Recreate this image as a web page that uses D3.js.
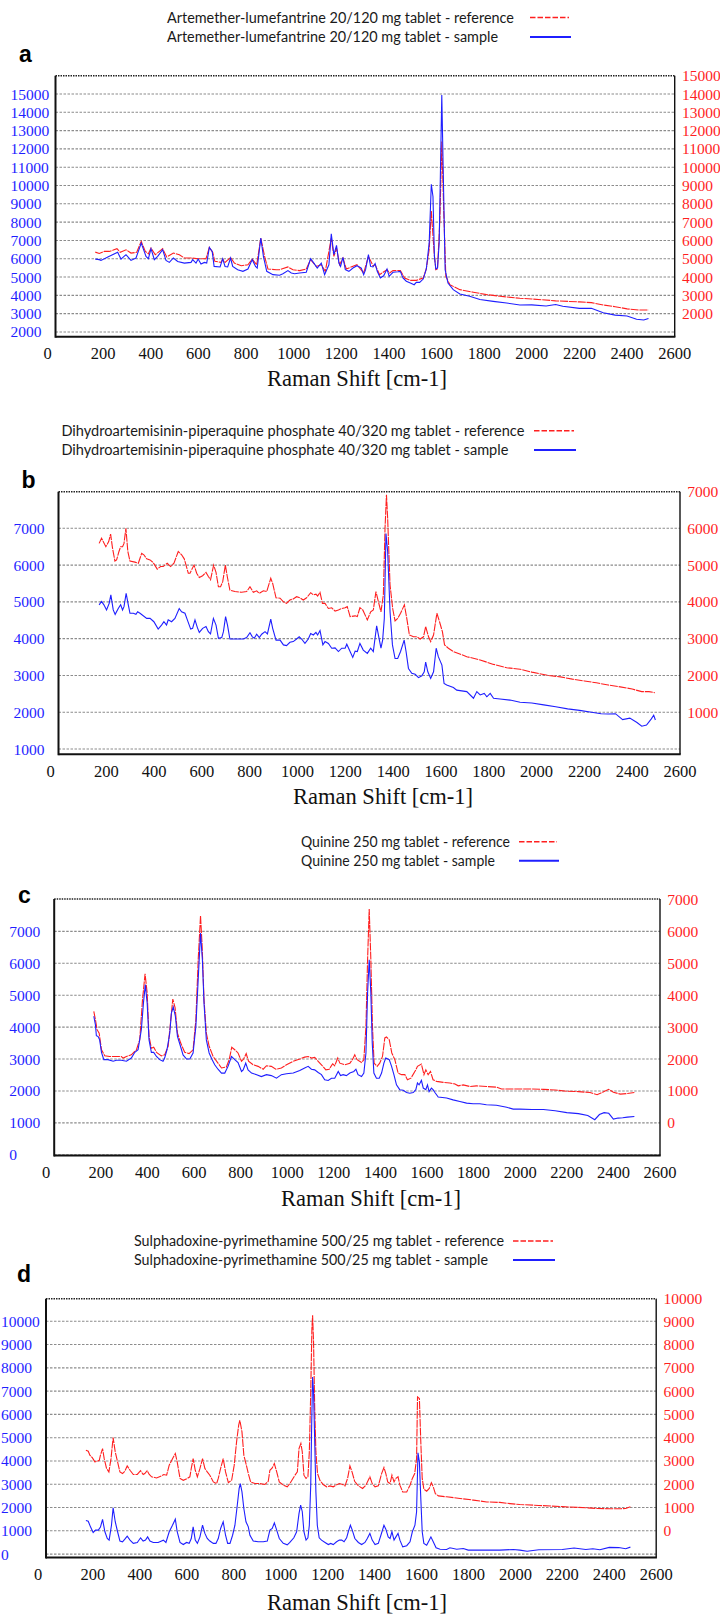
<!DOCTYPE html>
<html>
<head>
<meta charset="utf-8">
<script src="https://cdn.jsdelivr.net/npm/d3@7/dist/d3.min.js"></script>
<style>
  body { margin: 0; background: #fff; }
  svg { display: block; }
</style>
</head>
<body>
<div id="chart"></div>
<script>
// ---------------------------//
//            DATA            //
// ---------------------------//
// [Raman shift cm-1, intensity]; sample on the left (blue) axis, reference on the right (red) axis

const xTicks = [0, 200, 400, 600, 800, 1000, 1200, 1400, 1600, 1800, 2000, 2200, 2400, 2600];

// panel a
const aLegend = ["Artemether-lumefantrine 20/120 mg tablet - reference",
                 "Artemether-lumefantrine 20/120 mg tablet - sample"];
const aLeftTicks  = [2000, 3000, 4000, 5000, 6000, 7000, 8000, 9000, 10000, 11000, 12000, 13000, 14000, 15000];
const aRightTicks = [2000, 3000, 4000, 5000, 6000, 7000, 8000, 9000, 10000, 11000, 12000, 13000, 14000, 15000];
const aSample = [[167,5980],[184,5950],[191,5910],[226,6130],[261,6350],[275,5980],[296,6220],[317,5910],[338,6040],[360,6850],[380,6130],[390,6000],[401,6550],[415,5950],[429,6130],[450,6490],[464,5910],[478,5800],[495,6040],[513,5850],[541,5760],[569,5800],[576,5950],[590,5760],[599,5980],[611,5710],[625,5800],[635,5760],[646,6620],[658,6400],[666,5580],[691,5550],[702,6000],[712,5580],[723,5550],[735,6040],[744,5580],[765,5400],[787,5310],[808,5440],[826,5950],[840,5580],[847,5490],[862,7130],[873,6130],[887,5310],[913,5130],[941,5100],[955,5180],[976,5350],[990,5220],[1004,5180],[1025,5220],[1053,5260],[1071,6000],[1085,5760],[1099,5490],[1116,5760],[1130,5130],[1148,5670],[1158,7360],[1169,6220],[1180,6730],[1190,5760],[1197,5580],[1207,6070],[1217,5400],[1232,5310],[1249,5490],[1266,5620],[1284,5490],[1294,5130],[1302,5400],[1314,6220],[1323,5580],[1333,5550],[1342,5730],[1351,5310],[1364,4950],[1378,5070],[1392,5440],[1401,5040],[1417,5260],[1438,5290],[1448,5310],[1459,4950],[1473,4770],[1490,4670],[1506,4580],[1515,4710],[1529,4710],[1544,4890],[1557,5440],[1569,6850],[1578,10070],[1585,9400],[1591,6130],[1597,5440],[1604,5490],[1611,6850],[1622,14950],[1628,10850],[1636,5400],[1648,4670],[1670,4310],[1698,4070],[1739,3950],[1782,3770],[1838,3670],[1894,3580],[1950,3470],[2000,3480],[2060,3420],[2100,3500],[2130,3400],[2200,3290],[2250,3290],[2300,3050],[2350,2920],[2400,2870],[2440,2690],[2470,2650],[2490,2740]];
const aReference = [[167,5360],[184,5290],[205,5400],[226,5400],[240,5460],[258,5550],[272,5350],[296,5490],[317,5310],[341,5350],[360,5950],[377,5400],[390,5270],[401,5580],[419,5220],[450,5550],[467,5090],[495,5310],[520,5220],[541,5040],[569,5040],[600,5000],[632,5000],[646,5620],[660,5350],[669,4860],[695,4800],[702,4980],[712,4800],[735,5070],[751,4760],[780,4620],[808,4670],[826,4980],[845,4670],[862,6130],[878,5130],[892,4440],[927,4400],[941,4400],[976,4550],[997,4400],[1025,4350],[1053,4440],[1071,4950],[1095,4580],[1116,4670],[1133,4310],[1158,6130],[1169,5130],[1180,5580],[1193,4670],[1207,5040],[1221,4440],[1266,4670],[1294,4220],[1314,5130],[1333,4620],[1342,4670],[1361,4130],[1392,4400],[1403,4220],[1417,4350],[1448,4360],[1466,3950],[1490,3820],[1515,3820],[1544,3950],[1557,4440],[1569,5490],[1578,7600],[1590,5310],[1597,4400],[1604,4440],[1614,7130],[1622,11400],[1630,7670],[1639,4040],[1656,3580],[1698,3310],[1754,3170],[1810,3040],[1894,2910],[1950,2840],[2000,2800],[2100,2700],[2200,2640],[2250,2600],[2300,2470],[2350,2380],[2400,2260],[2450,2200],[2490,2200]];

// panel b
const bLegend = ["Dihydroartemisinin-piperaquine phosphate 40/320 mg tablet - reference",
                 "Dihydroartemisinin-piperaquine phosphate 40/320 mg tablet - sample"];
const bLeftTicks  = [1000, 2000, 3000, 4000, 5000, 6000, 7000];
const bRightTicks = [1000, 2000, 3000, 4000, 5000, 6000, 7000];
const bSample = [[170,4920],[180,5010],[190,4920],[201,4780],[212,4960],[219,5190],[229,4780],[237,4660],[250,4820],[260,4920],[268,4780],[274,4870],[283,5230],[292,4920],[299,4690],[313,4690],[324,4660],[331,4730],[341,4690],[369,4550],[383,4550],[399,4460],[417,4260],[431,4370],[441,4460],[452,4370],[459,4510],[473,4460],[487,4550],[505,4820],[515,4730],[529,4690],[539,4510],[553,4260],[561,4280],[571,4510],[581,4300],[589,4170],[603,4280],[617,4330],[627,4190],[636,4130],[648,4550],[659,4370],[669,4010],[683,4030],[690,4190],[699,4600],[707,4370],[717,3990],[745,3990],[773,3990],[787,4030],[801,4160],[811,4050],[819,4010],[829,4120],[840,4030],[850,4120],[864,4190],[874,4130],[888,4530],[896,4280],[910,3960],[927,3960],[941,3830],[954,3810],[968,3900],[982,3920],[996,3990],[1007,4050],[1017,3990],[1031,3870],[1045,3990],[1055,4140],[1066,4100],[1077,4170],[1084,4100],[1094,4220],[1106,3830],[1115,3920],[1129,3870],[1143,3740],[1157,3750],[1171,3650],[1185,3740],[1199,3740],[1206,3850],[1217,3690],[1231,3490],[1241,3660],[1250,3650],[1261,3870],[1275,3690],[1292,3600],[1306,3740],[1317,3650],[1331,4350],[1341,4010],[1349,3740],[1356,3960],[1363,4550],[1370,6860],[1377,6370],[1387,4730],[1397,3830],[1408,3460],[1419,3460],[1431,3650],[1446,3960],[1454,3650],[1464,3190],[1478,3060],[1492,3030],[1506,2940],[1520,2990],[1530,3100],[1536,3360],[1545,3100],[1557,2920],[1569,3100],[1580,3740],[1589,3510],[1604,3280],[1613,2780],[1624,2740],[1652,2670],[1666,2600],[1708,2560],[1736,2380],[1750,2560],[1764,2470],[1781,2510],[1792,2420],[1806,2510],[1820,2380],[1847,2360],[1889,2330],[1931,2270],[1980,2250],[2030,2200],[2080,2150],[2130,2090],[2180,2050],[2230,2000],[2270,1960],[2300,1950],[2330,1960],[2360,1800],[2390,1840],[2420,1720],[2440,1620],[2460,1650],[2480,1820],[2490,1920],[2497,1790]];
const bReference = [[170,5590],[180,5730],[187,5640],[198,5500],[210,5640],[218,5840],[226,5460],[236,5110],[243,5140],[253,5370],[260,5500],[268,5500],[274,5590],[282,6000],[290,5370],[299,5110],[320,5080],[334,5050],[348,5320],[357,5280],[369,5170],[383,5140],[396,5070],[413,4890],[427,4960],[438,4960],[455,5050],[469,4960],[483,5050],[501,5370],[515,5280],[526,5170],[543,4780],[550,4780],[567,5000],[578,4780],[589,4660],[603,4710],[617,4800],[627,4690],[636,4600],[649,5000],[659,4800],[669,4410],[678,4410],[687,4550],[698,5000],[706,4690],[717,4320],[738,4280],[766,4260],[787,4280],[801,4410],[815,4260],[829,4300],[840,4230],[857,4300],[871,4280],[888,4640],[896,4500],[910,4110],[927,4100],[941,4000],[954,3960],[968,4050],[982,4080],[996,4140],[1010,4110],[1024,4050],[1038,4110],[1055,4250],[1066,4190],[1077,4210],[1084,4160],[1094,4260],[1104,3960],[1115,3960],[1129,3820],[1143,3840],[1157,3750],[1171,3780],[1185,3820],[1199,3840],[1208,3870],[1220,3600],[1241,3620],[1250,3600],[1261,3840],[1273,3780],[1292,3510],[1306,3730],[1317,3780],[1328,4280],[1340,3960],[1349,3730],[1359,4190],[1366,6000],[1372,6910],[1377,6270],[1387,4460],[1398,3820],[1408,3480],[1419,3550],[1431,3690],[1447,3920],[1457,3550],[1468,3100],[1485,3050],[1499,3050],[1513,2990],[1527,3050],[1536,3330],[1548,3050],[1557,2920],[1569,3100],[1583,3690],[1594,3460],[1606,3190],[1615,2830],[1631,2740],[1652,2650],[1708,2510],[1764,2420],[1820,2300],[1875,2210],[1931,2170],[1980,2090],[2050,2000],[2100,1960],[2150,1900],[2200,1850],[2250,1800],[2300,1740],[2350,1690],[2400,1630],[2440,1560],[2470,1560],[2495,1530]];

// panel c
const cLegend = ["Quinine 250 mg tablet - reference",
                 "Quinine 250 mg tablet - sample"];
const cLeftTicks  = [0, 1000, 2000, 3000, 4000, 5000, 6000, 7000];
const cRightTicks = [0, 1000, 2000, 3000, 4000, 5000, 6000, 7000];
const cSample = [[170,4340],[177,4070],[181,3730],[188,3710],[195,3600],[203,3210],[213,2980],[231,2980],[253,2930],[267,2960],[288,2960],[310,2930],[331,3030],[346,3210],[360,3290],[374,3920],[383,4750],[391,5330],[399,4750],[407,3600],[417,3210],[427,3210],[439,3080],[453,2980],[467,2930],[474,3030],[484,3290],[496,3810],[503,4440],[511,4630],[520,4340],[529,3710],[542,3400],[553,3130],[568,3000],[582,3000],[596,3190],[608,4020],[618,5490],[628,6950],[636,6110],[643,4750],[653,3600],[665,3190],[678,2980],[689,2820],[703,2680],[718,2560],[732,2560],[746,2770],[761,3080],[775,2980],[789,2890],[804,2610],[811,2660],[822,2870],[832,2660],[847,2560],[869,2510],[889,2450],[911,2510],[932,2480],[954,2400],[975,2510],[997,2540],[1026,2560],[1054,2640],[1075,2720],[1090,2770],[1104,2680],[1118,2660],[1133,2580],[1147,2510],[1161,2350],[1176,2330],[1190,2400],[1204,2400],[1219,2610],[1229,2480],[1240,2510],[1254,2480],[1269,2560],[1286,2610],[1295,2680],[1304,2510],[1319,2450],[1329,2560],[1338,3190],[1345,5070],[1352,6110],[1359,5070],[1365,3500],[1372,2560],[1383,2400],[1395,2400],[1405,2560],[1415,2870],[1423,3030],[1438,2980],[1448,2770],[1458,2510],[1469,2190],[1483,2040],[1498,2020],[1512,1950],[1526,1930],[1541,1950],[1552,2040],[1559,2250],[1566,2190],[1576,2330],[1584,2090],[1595,2040],[1602,2190],[1609,1980],[1619,2090],[1626,2040],[1634,1950],[1648,1810],[1684,1780],[1712,1720],[1741,1670],[1770,1620],[1798,1600],[1827,1600],[1855,1570],[1898,1550],[1942,1490],[1970,1430],[1999,1430],[2050,1420],[2100,1420],[2150,1380],[2200,1320],[2250,1290],[2290,1230],[2320,1100],[2340,1260],[2360,1320],[2380,1300],[2400,1120],[2420,1150],[2440,1160],[2460,1180],[2490,1200]];
const cReference = [[170,3490],[177,3230],[184,2920],[193,2810],[203,2290],[217,2100],[238,2080],[267,2080],[288,2080],[296,2030],[310,2080],[331,2130],[353,2290],[367,2600],[379,3860],[390,4670],[399,4070],[407,2710],[417,2340],[427,2370],[439,2210],[460,2100],[474,2130],[489,2400],[499,3130],[509,3880],[519,3600],[529,2810],[543,2500],[560,2210],[579,2170],[596,2290],[608,3230],[618,5110],[628,6490],[635,5530],[643,3860],[653,2810],[665,2400],[682,2080],[703,1870],[718,1720],[739,1750],[751,1980],[762,2370],[775,2290],[789,2190],[804,1930],[813,2000],[824,2170],[834,1930],[854,1820],[875,1770],[897,1680],[911,1790],[932,1770],[951,1680],[975,1720],[997,1820],[1026,1930],[1054,2000],[1075,2060],[1090,2080],[1104,2030],[1118,2050],[1133,1930],[1147,1820],[1166,1660],[1180,1680],[1195,1850],[1204,1790],[1217,2030],[1226,1870],[1247,1820],[1269,1870],[1280,1980],[1290,2130],[1300,1980],[1319,1890],[1329,1980],[1338,3020],[1345,5110],[1352,6700],[1359,5110],[1366,3020],[1373,1870],[1386,1770],[1397,1870],[1409,2080],[1419,2660],[1426,2690],[1438,2600],[1449,2190],[1462,1980],[1476,1560],[1491,1510],[1505,1510],[1516,1350],[1531,1400],[1552,1660],[1559,1770],[1576,1840],[1587,1510],[1595,1660],[1605,1510],[1615,1610],[1626,1350],[1641,1300],[1670,1270],[1698,1250],[1720,1220],[1734,1160],[1755,1190],[1784,1140],[1812,1160],[1855,1140],[1898,1120],[1920,1060],[1999,1060],[2050,1060],[2100,1050],[2150,1030],[2200,990],[2250,980],[2300,950],[2330,880],[2360,980],[2380,1050],[2400,960],[2430,900],[2460,920],[2490,950]];

// panel d
const dLegend = ["Sulphadoxine-pyrimethamine 500/25 mg tablet - reference",
                 "Sulphadoxine-pyrimethamine 500/25 mg tablet - sample"];
const dLeftTicks  = [0, 1000, 2000, 3000, 4000, 5000, 6000, 7000, 8000, 9000, 10000];
const dRightTicks = [0, 1000, 2000, 3000, 4000, 5000, 6000, 7000, 8000, 9000, 10000];
const dSample = [[170,1440],[180,1410],[190,1160],[201,930],[211,1030],[223,1030],[232,1160],[241,1490],[251,960],[261,670],[269,600],[279,1240],[286,1990],[295,1390],[305,960],[315,560],[326,530],[336,640],[346,770],[358,600],[372,460],[389,500],[403,700],[414,560],[424,600],[433,740],[443,560],[457,500],[478,500],[500,600],[511,500],[525,960],[539,1240],[551,1500],[559,960],[571,500],[585,410],[599,500],[610,460],[619,670],[627,1170],[636,600],[645,460],[656,740],[667,1240],[677,890],[687,670],[698,560],[713,460],[724,460],[734,670],[744,1100],[755,1390],[765,810],[774,460],[784,460],[795,810],[805,1240],[815,2100],[823,2820],[828,3030],[835,2670],[843,1960],[852,1390],[862,1170],[869,810],[883,560],[904,530],[926,530],[943,560],[954,1030],[964,1100],[973,1340],[983,1030],[994,670],[1011,460],[1028,400],[1039,500],[1056,700],[1068,960],[1078,1740],[1085,2100],[1092,1820],[1099,960],[1108,600],[1116,700],[1122,1240],[1128,2960],[1132,5540],[1136,7610],[1140,6970],[1145,4820],[1150,2670],[1156,1240],[1164,700],[1174,600],[1189,500],[1203,410],[1213,460],[1224,410],[1238,530],[1250,600],[1260,600],[1270,530],[1281,700],[1288,960],[1297,1240],[1305,1030],[1316,670],[1331,500],[1345,410],[1359,500],[1369,670],[1380,890],[1390,600],[1402,410],[1416,460],[1427,810],[1440,1240],[1448,1070],[1458,740],[1466,670],[1474,960],[1483,600],[1491,740],[1500,890],[1508,600],[1520,310],[1537,360],[1551,530],[1561,960],[1572,1240],[1579,1820],[1585,4350],[1591,3960],[1597,2390],[1603,960],[1610,460],[1622,380],[1633,600],[1640,740],[1650,530],[1662,270],[1679,210],[1707,200],[1721,270],[1750,210],[1778,240],[1799,170],[1821,170],[1878,170],[1934,170],[1991,200],[2019,170],[2050,120],[2100,190],[2200,200],[2250,260],[2300,200],[2330,230],[2360,190],[2400,290],[2440,280],[2470,230],[2490,300]];
const dReference = [[170,3460],[180,3420],[187,3250],[198,3130],[208,2960],[218,2990],[227,3030],[232,3250],[241,3530],[248,3100],[258,2680],[268,2530],[277,3100],[286,4010],[295,3390],[305,2960],[315,2530],[326,2460],[336,2560],[346,2790],[358,2600],[372,2420],[389,2420],[403,2580],[414,2420],[421,2460],[431,2580],[440,2420],[450,2320],[471,2270],[492,2360],[502,2420],[514,2390],[525,2820],[539,3100],[551,3320],[559,2960],[571,2250],[585,2170],[602,2250],[613,2320],[619,2680],[627,3100],[636,2600],[645,2320],[656,2680],[667,3100],[677,2680],[687,2530],[698,2390],[713,2100],[727,2030],[734,2250],[744,2680],[755,3100],[765,2530],[777,2070],[791,2170],[802,2820],[812,3820],[821,4540],[826,4750],[835,4250],[843,3250],[852,2890],[862,2460],[872,2100],[890,2030],[911,2030],[933,1990],[947,2130],[954,2600],[964,2700],[973,2890],[983,2530],[994,2100],[1011,1960],[1028,1890],[1039,2030],[1061,2390],[1071,2530],[1078,3530],[1086,3750],[1092,3390],[1099,2390],[1108,2250],[1116,2320],[1122,3390],[1128,5970],[1133,8690],[1136,9260],[1140,8110],[1145,5250],[1150,3390],[1157,2460],[1167,2170],[1181,1990],[1196,1890],[1210,1930],[1224,1890],[1235,1960],[1250,2030],[1264,1990],[1274,1930],[1285,2250],[1295,2790],[1304,2530],[1315,2130],[1331,1930],[1349,1820],[1363,1960],[1373,2170],[1380,2320],[1390,2030],[1402,1890],[1416,1930],[1430,2460],[1440,2720],[1448,2460],[1456,2100],[1466,2030],[1474,2390],[1483,2100],[1491,2250],[1500,2320],[1508,1960],[1520,1670],[1537,1670],[1551,1960],[1561,2250],[1571,2460],[1579,3100],[1583,5750],[1591,5680],[1597,3820],[1603,2250],[1610,1790],[1622,1700],[1633,1820],[1642,2070],[1650,1890],[1659,1600],[1672,1500],[1707,1460],[1764,1390],[1821,1320],[1878,1240],[1934,1220],[1977,1170],[2019,1130],[2100,1090],[2200,1040],[2300,990],[2350,960],[2400,950],[2450,950],[2470,960],[2490,1030]];

// ---------------------------//
//           LAYOUT           //
// ---------------------------//
const WIDTH = 720, HEIGHT = 1615;
const BLUE = "#1f1fff", RED = "#ff1f1f";

const panels = [
  { letter: "a", legend: aLegend, sample: aSample, reference: aReference,
    leftTicks: aLeftTicks, rightTicks: aRightTicks,
    frame: { left: 55.5, right: 674.7, top: 75.7, bottom: 336.7 },
    leftDomain: [1740, 16000], rightDomain: [740, 15000],
    letterPos: [19, 61.5],
    legendPos: { x: 167, y: 22.5, gap: 19.4, w1: 347, w2: 331, m0: 530, m1: 569 },
    xLabelPos: [357, 386] },
  { letter: "b", legend: bLegend, sample: bSample, reference: bReference,
    leftTicks: bLeftTicks, rightTicks: bRightTicks,
    frame: { left: 58.5, right: 680, top: 491.7, bottom: 754.3 },
    leftDomain: [856, 7995], rightDomain: [-144, 6995],
    letterPos: [21.5, 488.3],
    legendPos: { x: 61.4, y: 435.7, gap: 19.3, w1: 463, w2: 447, m0: 534, m1: 574 },
    xLabelPos: [383, 804] },
  { letter: "c", legend: cLegend, sample: cSample, reference: cReference,
    leftTicks: cLeftTicks, rightTicks: cRightTicks,
    frame: { left: 54.2, right: 660, top: 899, bottom: 1155.5 },
    leftDomain: [-22, 8013], rightDomain: [-1022, 7013],
    letterPos: [18, 902.7],
    legendPos: { x: 301, y: 846.7, gap: 19, w1: 209, w2: 194, m0: 519, m1: 557 },
    xLabelPos: [371, 1206] },
  { letter: "d", legend: dLegend, sample: dSample, reference: dReference,
    leftTicks: dLeftTicks, rightTicks: dRightTicks,
    frame: { left: 46, right: 656.2, top: 1298.7, bottom: 1557.5 },
    leftDomain: [-146, 10970], rightDomain: [-1146, 9970],
    letterPos: [17, 1281.7],
    legendPos: { x: 134, y: 1246, gap: 19, w1: 370, w2: 354, m0: 513, m1: 553 },
    xLabelPos: [357, 1610] }
];

const svg = d3.select("#chart").append("svg")
    .attr("width", WIDTH)
    .attr("height", HEIGHT)
    .style("background", "#fff");

// ---------------------------//
//         DRAW PANEL         //
// ---------------------------//
var drawPanel = function(p)
{
    const f = p.frame;
    const g = svg.append("g").attr("class", "panel-" + p.letter);

    const xScale = d3.scaleLinear().domain([0, 2600]).range([f.left, f.right]);
    const yLeft  = d3.scaleLinear().domain(p.leftDomain).range([f.bottom, f.top]);
    const yRight = d3.scaleLinear().domain(p.rightDomain).range([f.bottom, f.top]);

    // legend
    const lg = p.legendPos;
    g.selectAll(".legend-text")
        .data(p.legend)
        .enter()
        .append("text")
        .attr("x", lg.x)
        .attr("y", (d, k) => lg.y + k * lg.gap)
        .attr("textLength", (d, k) => k === 0 ? lg.w1 : lg.w2)
        .attr("lengthAdjust", "spacingAndGlyphs")
        .style("font-family", "Lato, 'Open Sans', sans-serif")
        .style("font-size", "14.5px")
        .attr("fill", "#1a1a1a")
        .text(d => d);

    g.append("line")
        .attr("x1", lg.m0).attr("x2", lg.m1)
        .attr("y1", lg.y - 5).attr("y2", lg.y - 5)
        .attr("stroke", RED).attr("stroke-width", 1.6)
        .attr("stroke-dasharray", "5.5,2");
    g.append("line")
        .attr("x1", lg.m0).attr("x2", lg.m1 + 2)
        .attr("y1", lg.y - 5 + lg.gap).attr("y2", lg.y - 5 + lg.gap)
        .attr("stroke", BLUE).attr("stroke-width", 2);

    // panel letter
    g.append("text")
        .attr("x", p.letterPos[0])
        .attr("y", p.letterPos[1])
        .style("font-family", "'Liberation Sans', Arial, sans-serif")
        .style("font-weight", "bold")
        .style("font-size", "23px")
        .attr("fill", "#000")
        .text(p.letter);

    // grid lines (at left ticks)
    g.selectAll(".grid")
        .data(p.leftTicks)
        .enter()
        .append("line")
        .attr("x1", f.left).attr("x2", f.right)
        .attr("y1", d => yLeft(d)).attr("y2", d => yLeft(d))
        .attr("stroke", "#8c8c8c")
        .attr("stroke-width", 1.1)
        .attr("stroke-dasharray", "2.5,1.5");

    // left axis labels
    g.selectAll(".ltick")
        .data(p.leftTicks)
        .enter()
        .append("text")
        .attr("x", f.left - 45)
        .attr("y", d => yLeft(d) + 5.5)
        .style("font-family", "'Liberation Serif', 'Times New Roman', serif")
        .style("font-size", "15.5px")
        .attr("fill", BLUE)
        .text(d => d3.format("d")(d));

    // right axis labels
    g.selectAll(".rtick")
        .data(p.rightTicks)
        .enter()
        .append("text")
        .attr("x", f.right + 7.3)
        .attr("y", d => yRight(d) + 5.5)
        .style("font-family", "'Liberation Serif', 'Times New Roman', serif")
        .style("font-size", "15.5px")
        .attr("fill", RED)
        .text(d => d3.format("d")(d));

    // x axis labels
    g.selectAll(".xtick")
        .data(xTicks)
        .enter()
        .append("text")
        .attr("x", d => xScale(d) + (d === 0 ? -8 : 0))
        .attr("y", f.bottom + 22.5)
        .attr("text-anchor", "middle")
        .style("font-family", "'Liberation Serif', 'Times New Roman', serif")
        .style("font-size", "16.5px")
        .attr("fill", "#111")
        .text(d => d);

    g.append("text")
        .attr("x", p.xLabelPos[0])
        .attr("y", p.xLabelPos[1])
        .attr("text-anchor", "middle")
        .style("font-family", "'Liberation Serif', 'Times New Roman', serif")
        .style("font-size", "22.5px")
        .attr("fill", "#111")
        .text("Raman Shift [cm-1]");

    // spectra
    const clipId = "clip-" + p.letter;
    svg.append("clipPath").attr("id", clipId)
        .append("rect")
        .attr("x", f.left).attr("y", f.top - 2)
        .attr("width", f.right - f.left).attr("height", f.bottom - f.top + 2);

    const lineL = d3.line().x(d => xScale(d[0])).y(d => yLeft(d[1]));
    const lineR = d3.line().x(d => xScale(d[0])).y(d => yRight(d[1]));

    g.append("path")
        .datum(p.reference)
        .attr("clip-path", `url(#${clipId})`)
        .attr("d", lineR)
        .attr("fill", "none")
        .attr("stroke", RED)
        .attr("stroke-width", 1.1)
        .attr("stroke-dasharray", "8,0.9");

    g.append("path")
        .datum(p.sample)
        .attr("clip-path", `url(#${clipId})`)
        .attr("d", lineL)
        .attr("fill", "none")
        .attr("stroke", BLUE)
        .attr("stroke-width", 1.1);

    // frame
    g.append("line")
        .attr("x1", f.left).attr("x2", f.right)
        .attr("y1", f.top).attr("y2", f.top)
        .attr("stroke", "#222").attr("stroke-width", 1.6)
        .attr("stroke-dasharray", "1.5,1");
    g.append("line")
        .attr("x1", f.right).attr("x2", f.right)
        .attr("y1", f.top).attr("y2", f.bottom)
        .attr("stroke", "#111").attr("stroke-width", 1.4);
    g.append("line")
        .attr("x1", f.left).attr("x2", f.left)
        .attr("y1", f.top).attr("y2", f.bottom + 1)
        .attr("stroke", "#111").attr("stroke-width", 2);
    g.append("line")
        .attr("x1", f.left).attr("x2", f.right + 0.7)
        .attr("y1", f.bottom).attr("y2", f.bottom)
        .attr("stroke", "#111").attr("stroke-width", 2);
}

panels.forEach(drawPanel);
</script>
</body>
</html>
